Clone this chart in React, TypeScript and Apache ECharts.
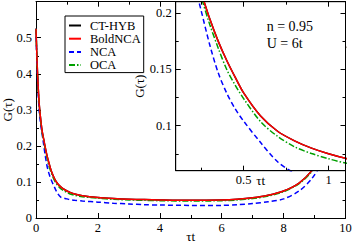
import React, { useEffect, useRef } from 'react';
import * as echarts from 'echarts';

const tau = [0, 0.02, 0.05, 0.1, 0.15, 0.2, 0.25, 0.3, 0.35, 0.4, 0.45, 0.5, 0.6, 0.7, 0.8, 0.9, 1.0, 1.1, 1.25, 1.5, 2, 2.5, 3, 3.5, 4, 5, 6, 6.5, 7, 7.5, 8, 8.5, 8.9, 9.2, 9.5, 9.8, 10];
const ctHyb = [0.525, 0.47, 0.4, 0.32, 0.275, 0.24, 0.218, 0.195, 0.175, 0.158, 0.143, 0.129, 0.1085, 0.095, 0.0865, 0.08, 0.075, 0.071, 0.0665, 0.062, 0.057, 0.054, 0.052, 0.051, 0.05, 0.049, 0.05, 0.052, 0.056, 0.063, 0.075, 0.097, 0.13, 0.17, 0.24, 0.35, 0.475];
const boldNca = [0.525, 0.47, 0.4, 0.32, 0.275, 0.24, 0.218, 0.195, 0.175, 0.158, 0.143, 0.129, 0.1085, 0.095, 0.0865, 0.08, 0.075, 0.071, 0.0665, 0.062, 0.057, 0.054, 0.052, 0.051, 0.05, 0.049, 0.05, 0.052, 0.056, 0.063, 0.075, 0.097, 0.13, 0.17, 0.24, 0.35, 0.475];
const nca = [0.525, 0.46, 0.385, 0.3, 0.26, 0.232, 0.202, 0.172, 0.147, 0.129, 0.115, 0.104, 0.085, 0.068, 0.058, 0.055, 0.053, 0.051, 0.049, 0.047, 0.044, 0.041, 0.039, 0.037, 0.036, 0.035, 0.035, 0.037, 0.04, 0.045, 0.053, 0.075, 0.108, 0.15, 0.225, 0.34, 0.475];
const oca = [0.525, 0.47, 0.395, 0.315, 0.27, 0.236, 0.214, 0.19, 0.169, 0.15, 0.136, 0.124, 0.1035, 0.0905, 0.0812, 0.0752, 0.0706, 0.0668, 0.063, 0.059, 0.055, 0.052, 0.05, 0.049, 0.048, 0.047, 0.048, 0.05, 0.054, 0.061, 0.073, 0.095, 0.128, 0.168, 0.237, 0.345, 0.475];

const legendNames = ['CT-HYB', 'BoldNCA', 'NCA', 'OCA'];
const insetXMajor = [0.5, 1];
const insetXMinor = [0.25, 0.75];
const insetYMajor = [0.1, 0.15, 0.2];
const insetYMinor = [0.075, 0.125, 0.175];
const annotations = ['n = 0.95', 'U = 6t'];

const FONT = "'Liberation Serif', 'Times New Roman', serif";

export default function App() {
  const ref = useRef<HTMLDivElement>(null);
  useEffect(() => {
    document.body.style.margin = '0';
    const chart = echarts.init(ref.current!, undefined, { renderer: 'svg' });
    const pairs = (ys: number[]) => tau.map((t, i) => [t, ys[i]]);
    const defs = [
      { name: 'CT-HYB', data: ctHyb, color: '#000000', type: 'solid' as any },
      { name: 'NCA', data: nca, color: '#0000ff', type: [5, 3] as any },
      { name: 'OCA', data: oca, color: '#00a000', type: [6, 2, 1.5, 2] as any },
      { name: 'BoldNCA', data: boldNca, color: '#ff0000', type: 'solid' as any },
    ];
    const series: any[] = [];
    defs.forEach((d) => {
      series.push({
        type: 'line', name: d.name, data: pairs(d.data), xAxisIndex: 0, yAxisIndex: 0,
        symbol: 'none', smooth: 0.3, z: 2, color: d.color,
        lineStyle: { color: d.color, width: 1.5, type: d.type },
      });
    });
    defs.forEach((d) => {
      series.push({
        type: 'line', name: d.name, data: pairs(d.data), xAxisIndex: 2, yAxisIndex: 2,
        symbol: 'none', smooth: 0.3, z: 6, clip: true, color: d.color,
        lineStyle: { color: d.color, width: 1.5, type: d.type },
      });
    });
    const line = { show: true, onZero: false, lineStyle: { color: '#000', width: 1 } };
    const noLine = { show: false, onZero: false };
    const lbl = { fontFamily: FONT, fontSize: 12.5, color: '#000' };
    const nameStyle = { fontFamily: FONT, fontSize: 13, color: '#000' };
    const fmt = (v: number) => (v > 0.59 ? '' : String(Number(v.toFixed(2))));
    const mainX = (pos: string, labels: boolean) => ({
      type: 'value', gridIndex: 0, position: pos, min: 0, max: 10, interval: 2,
      axisLine: line, splitLine: { show: false },
      axisTick: { show: true, inside: true, length: 5, lineStyle: { color: '#000' } },
      minorTick: { show: true, splitNumber: 2, length: 3, lineStyle: { color: '#000' } },
      minorSplitLine: { show: false },
      axisLabel: labels ? { show: true, margin: 3, ...lbl } : { show: false },
      ...(labels ? { name: 'τt', nameLocation: 'middle', nameGap: 12, nameMoveOverlap: false, nameTextStyle: nameStyle } : {}),
    });
    const mainY = (pos: string, labels: boolean) => ({
      type: 'value', gridIndex: 0, position: pos, min: 0, max: 0.6, interval: 0.1,
      axisLine: line, splitLine: { show: false },
      axisTick: { show: true, inside: true, length: 5, lineStyle: { color: '#000' } },
      minorTick: { show: true, splitNumber: 2, length: 3, lineStyle: { color: '#000' } },
      minorSplitLine: { show: false },
      axisLabel: labels ? { show: true, margin: 4, formatter: fmt, ...lbl } : { show: false },
      ...(labels ? { name: 'G(τ)', nameLocation: 'middle', nameGap: 22, nameRotate: 90, nameMoveOverlap: false, nameTextStyle: nameStyle } : {}),
    });
    const insetX = (pos: string, ticks: number[], len: number, major: boolean, labels: boolean) => ({
      type: 'value', gridIndex: 1, position: pos, min: 0.1, max: 1.1, z: 7,
      axisLine: major ? line : noLine, splitLine: { show: false },
      axisTick: { show: true, inside: true, length: len, customValues: ticks, lineStyle: { color: '#000' } },
      axisLabel: labels ? { show: true, margin: 3, customValues: insetXMajor, formatter: (v: number) => String(v), ...lbl } : { show: false },
      ...(labels ? { name: 'τt', nameLocation: 'middle', nameGap: 3, nameMoveOverlap: false, nameTextStyle: nameStyle } : {}),
    });
    const insetY = (pos: string, ticks: number[], len: number, major: boolean, labels: boolean) => ({
      type: 'value', gridIndex: 1, position: pos, min: 0.06, max: 0.21, z: 7,
      axisLine: major ? line : noLine, splitLine: { show: false },
      axisTick: { show: true, inside: true, length: len, customValues: ticks, lineStyle: { color: '#000' } },
      axisLabel: labels ? { show: true, margin: 4, customValues: insetYMajor, formatter: (v: number) => String(v), ...lbl } : { show: false },
      ...(labels ? { name: 'G(τ)', nameLocation: 'middle', nameGap: 30, nameRotate: 90, nameMoveOverlap: false, nameTextStyle: nameStyle } : {}),
    });
    chart.setOption({
      animation: false,
      backgroundColor: '#fff',
      textStyle: { fontFamily: FONT },
      grid: [
        { left: 36, right: 7.5, top: 1.7, bottom: 25, show: false, outerBoundsMode: 'none', containLabel: false },
        { left: 175.7, right: 7.5, top: 1.7, bottom: 72.3, show: true, backgroundColor: '#fff', borderColor: '#000', borderWidth: 1, z: 5, outerBoundsMode: 'none', containLabel: false },
      ],
      xAxis: [
        mainX('bottom', true),
        mainX('top', false),
        insetX('bottom', insetXMajor, 5, true, true),
        insetX('top', insetXMajor, 5, true, false),
        insetX('bottom', insetXMinor, 3, false, false),
        insetX('top', insetXMinor, 3, false, false),
      ],
      yAxis: [
        mainY('left', true),
        mainY('right', false),
        insetY('left', insetYMajor, 5, true, true),
        insetY('right', insetYMajor, 5, true, false),
        insetY('left', insetYMinor, 3, false, false),
        insetY('right', insetYMinor, 3, false, false),
      ],
      legend: {
        data: legendNames, orient: 'vertical', left: 65, top: 16,
        padding: [3, 3, 1, 3], itemWidth: 12, itemHeight: 8, itemGap: 0.2,
        borderColor: '#000', borderWidth: 1, borderRadius: 0, backgroundColor: '#fff',
        itemStyle: { opacity: 0, borderWidth: 0 },
        textStyle: { fontFamily: FONT, fontSize: 12.5, fontWeight: 'normal', color: '#000', lineHeight: 12, padding: [0, 0, 0, 4] },
        selectedMode: false, z: 8,
      },
      graphic: annotations.map((t, i) => ({
        type: 'text', left: 266.7, top: 19.5 + i * 16.6, z: 20,
        style: { text: t, fontFamily: FONT, fontSize: 14, fill: '#000' },
      })),
      series,
    });
    return () => chart.dispose();
  }, []);
  return <div ref={ref} style={{ width: 353, height: 243 }} />;
}
